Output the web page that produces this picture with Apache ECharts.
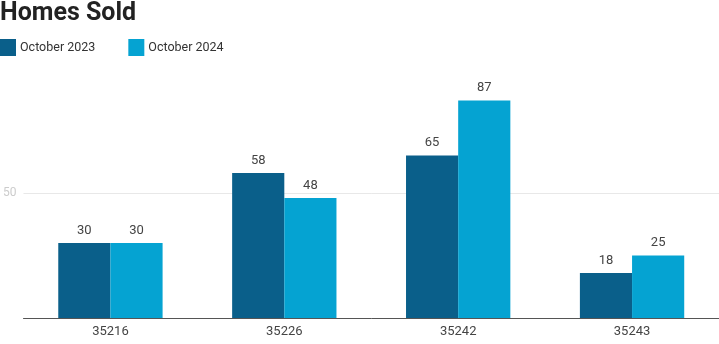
<!DOCTYPE html>
<html><head><meta charset="utf-8">
<script src="https://cdn.jsdelivr.net/npm/echarts@6/dist/echarts.min.js"></script>
<style>html,body{margin:0;padding:0;background:#fff}#c{width:719px;height:344px}</style>
</head><body><div id="c"></div>
<script>
const categories = ['35216', '35226', '35242', '35243'];
const oct2023 = [30, 58, 65, 18];
const oct2024 = [30, 48, 87, 25];
const seriesNames = ['October 2023', 'October 2024'];
const yTicks = [0, 50, 100];

const chart = echarts.init(document.getElementById('c'));
const lbl = {show: true, position: 'top', color: '#444', fontSize: 13, fontFamily: 'Roboto', distance: 6};
chart.setOption({
  animation: false,
  title: {text: 'Homes Sold', left: 0, top: 0, padding: 0, textStyle: {fontFamily: 'Roboto', fontWeight: 'bold', fontSize: 25, color: '#222', lineHeight: 27}},
  legend: {left: 0, top: 39, padding: 0, itemWidth: 16, itemHeight: 17, itemGap: 33, icon: 'rect',
    textStyle: {fontFamily: 'Roboto', fontSize: 12.5, color: '#333', padding: [0,0,0,-1]}, data: seriesNames},
  grid: {left: 21, right: 0, top: 68, bottom: 26},
  xAxis: {type: 'category', data: categories,
    axisLine: {lineStyle: {color: '#555', width: 1}}, axisTick: {show: false},
    axisLabel: {color: '#444', fontSize: 13, fontFamily: 'Roboto', margin: 7}},
  yAxis: {type: 'value', min: yTicks[0], max: yTicks[2], interval: 50,
    axisLine: {show: false}, axisTick: {show: false},
    axisLabel: {color: '#ccc', fontSize: 12, fontFamily: 'Roboto', margin: 7, showMinLabel: false, showMaxLabel: false},
    splitLine: {lineStyle: {color: ['rgba(0,0,0,0)', '#e8e8e8', 'rgba(0,0,0,0)']}}},
  series: [
    {name: seriesNames[0], type: 'bar', data: oct2023, barGap: '0%', barCategoryGap: '40%', itemStyle: {color: '#0a5f8a'}, label: lbl},
    {name: seriesNames[1], type: 'bar', data: oct2024, itemStyle: {color: '#05a3d2'}, label: lbl}
  ]
});
</script></body></html>
